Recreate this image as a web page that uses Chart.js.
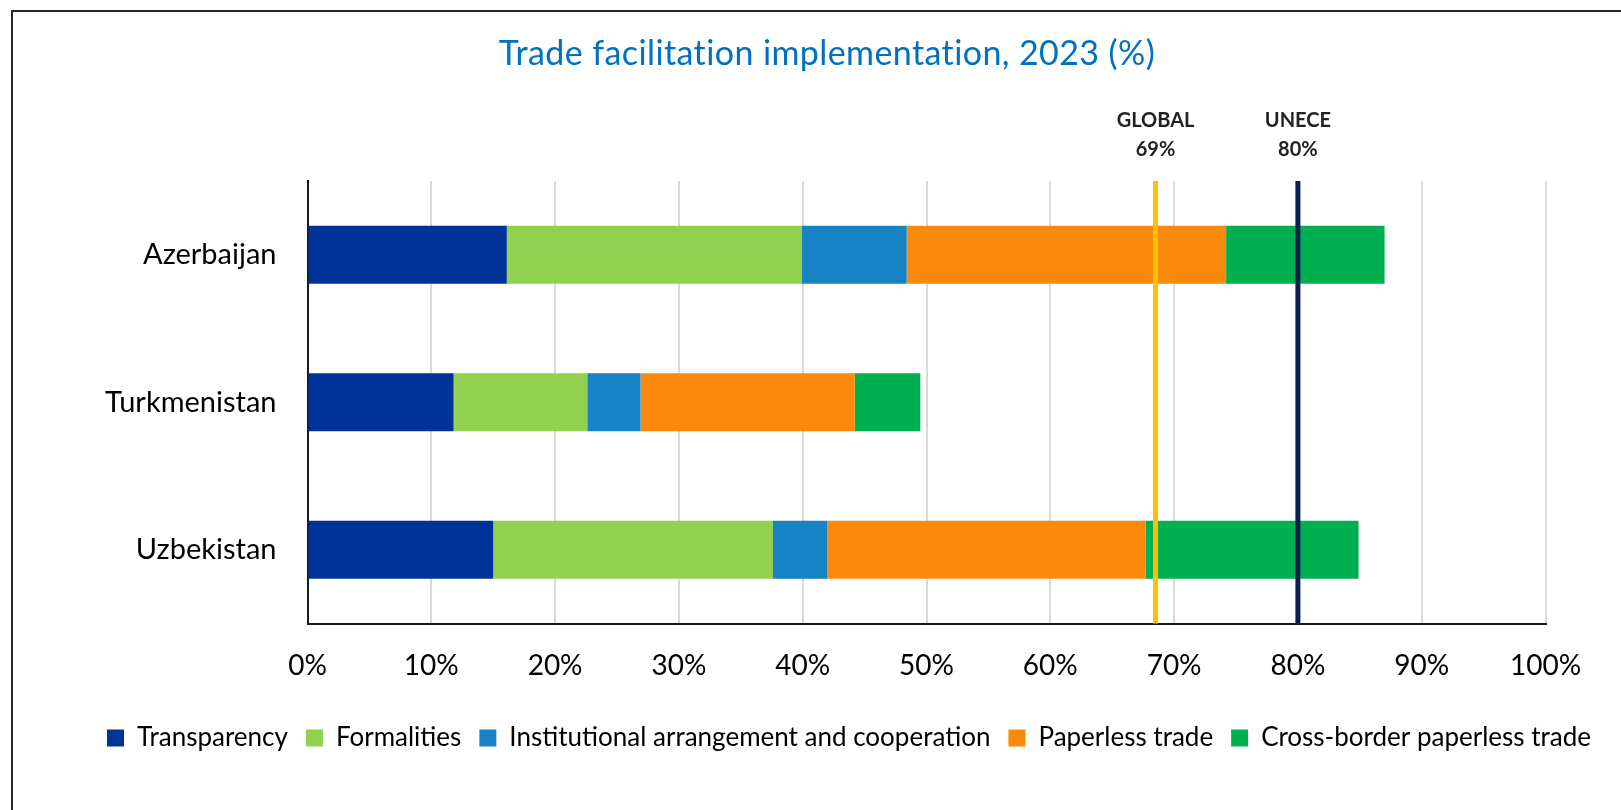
<!DOCTYPE html>
<html>
<head>
<meta charset="utf-8">
<script src="https://cdn.jsdelivr.net/npm/chart.js@4"></script>
<style>
  html, body { margin: 0; padding: 0; background: #fff; overflow: hidden; }
  #wrap { position: relative; width: 1621px; height: 810px; }
  #frame { position: absolute; left: 11px; top: 10px; width: 2000px; height: 2000px; border: 2px solid #262626; box-sizing: border-box; pointer-events: none; }
  canvas { position: absolute; left: 0; top: 0; }
</style>
</head>
<body>
<div id="wrap">
  <canvas id="c" width="1621" height="810"></canvas>
  <div id="frame"></div>
</div>
<script>
const categories = ["Azerbaijan", "Turkmenistan", "Uzbekistan"];
const seriesNames = ["Transparency", "Formalities", "Institutional arrangement and cooperation", "Paperless trade", "Cross-border paperless trade"];
const transparency = [16.1, 11.8, 15.0];
const formalities = [23.8, 10.8, 22.6];
const institutional = [8.5, 4.3, 4.4];
const paperless = [25.8, 17.3, 25.7];
const crossBorder = [12.8, 5.3, 17.2];
const seriesColors = ["#003399", "#92D050", "#1783C4", "#FA890C", "#00AF50"];
const refNames = ["GLOBAL", "UNECE"];
const refValues = [68.5, 80];
const refLabels = ["69%", "80%"];
const refColors = ["#FFC000", "#0B1F4F"];
const xTicks = [0, 10, 20, 30, 40, 50, 60, 70, 80, 90, 100];
const titleText = 'Trade facilitation implementation, 2023 (%)';

const FONT = "Lato, 'Open Sans', sans-serif";
const seriesValues = [transparency, formalities, institutional, paperless, crossBorder];

const PAD_L = 77;

const titlePlugin = {
  id: 'customTitle',
  afterDraw(chart) {
    const ctx = chart.ctx;
    ctx.save();
    ctx.fillStyle = '#0070C0';
    ctx.font = "34px " + FONT;
    try { ctx.letterSpacing = '0.4px'; } catch (e) {}
    ctx.textAlign = 'center';
    ctx.textBaseline = 'middle';
    ctx.fillText(titleText, 827, 54);
    ctx.restore();
  }
};

const refLinePlugin = {
  id: 'refLines',
  afterDatasetsDraw(chart) {
    const ctx = chart.ctx;
    const xs = chart.scales.x;
    const area = chart.chartArea;
    ctx.save();
    refValues.forEach((v, i) => {
      const x = xs.getPixelForValue(v);
      ctx.beginPath();
      ctx.strokeStyle = refColors[i];
      ctx.lineWidth = 5;
      ctx.moveTo(x, area.top);
      ctx.lineTo(x, area.bottom);
      ctx.stroke();
      ctx.fillStyle = '#222';
      ctx.font = "bold 20px " + FONT;
      ctx.textAlign = 'center';
      ctx.textBaseline = 'middle';
      ctx.fillText(refNames[i], x, 121);
      ctx.fillText(refLabels[i], x, 150);
    });
    ctx.restore();
  }
};

new Chart(document.getElementById('c'), {
  type: 'bar',
  data: {
    labels: categories,
    datasets: seriesNames.map((n, i) => ({
      label: n,
      data: seriesValues[i],
      backgroundColor: seriesColors[i],
      borderWidth: 0,
      barPercentage: 0.394,
      categoryPercentage: 1.0
    }))
  },
  options: {
    indexAxis: 'y',
    responsive: false,
    animation: false,
    devicePixelRatio: 1,
    layout: { padding: { left: PAD_L, right: 0, top: 181, bottom: 49 } },
    plugins: {
      title: { display: false },
      legend: {
        display: true,
        position: 'bottom',
        labels: {
          color: '#000',
          font: { family: FONT, size: 26 },
          boxWidth: 17,
          boxHeight: 17,
          padding: 18
        }
      },
      tooltip: { enabled: false }
    },
    scales: {
      x: {
        stacked: true,
        min: 0,
        max: 100,
        afterBuildTicks(scale) { scale.ticks = xTicks.map(v => ({ value: v })); },
        afterFit(scale) { scale.height = 83.5; },
        ticks: {
          color: '#000',
          font: { family: FONT, size: 28 },
          padding: 25.5,
          callback: v => v + '%'
        },
        grid: { color: '#D9D9D9', lineWidth: 2, drawTicks: false },
        border: { color: '#1A1A1A', width: 2 }
      },
      y: {
        stacked: true,
        afterFit(scale) { scale.width = 307.5 - PAD_L; },
        ticks: {
          color: '#000',
          font: { family: FONT, size: 29 },
          padding: 31
        },
        grid: { display: false, drawTicks: false },
        border: { color: '#1A1A1A', width: 2 }
      },
      yRight: {
        type: 'category',
        labels: categories,
        position: 'right',
        display: true,
        afterFit(scale) { scale.width = 75.5; },
        ticks: { display: false },
        grid: { display: false, drawTicks: false },
        border: { display: false }
      }
    }
  },
  plugins: [refLinePlugin, titlePlugin]
});
</script>
</body>
</html>
